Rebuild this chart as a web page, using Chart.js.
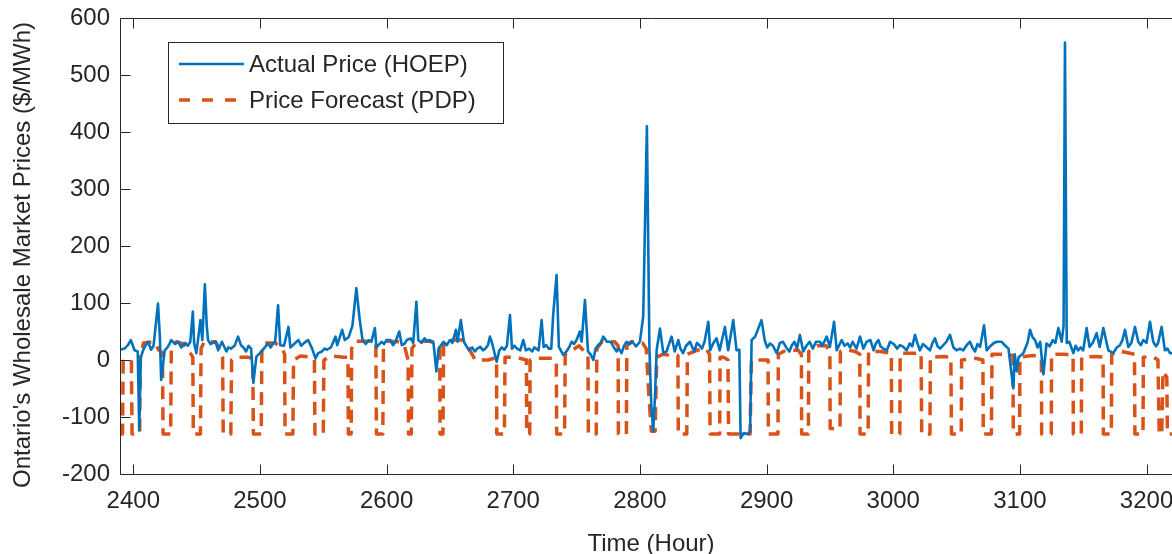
<!DOCTYPE html>
<html><head><meta charset="utf-8">
<script src="https://cdn.jsdelivr.net/npm/chart.js@4"></script>
<style>
html,body{margin:0;padding:0;overflow:hidden;background:#fff;width:1172px;height:554px}
#wrap{position:absolute;left:0;top:0;width:1200px;height:554px}
</style></head>
<body><div id="wrap"><canvas id="c" width="1200" height="554"></canvas></div>
<script>
const hoepHours = [
2389.5,2393,2395.8,2398,2401,2403.5,2404.7,2406,2407.7,2409.5,
2411.7,2414,2416,2419.5,2421,2422,2424.8,2427,2428.5,2430,
2433,2435.3,2438,2441,2443,2445,2447,2448,2449.8,2453,
2454.5,2456.5,2458,2459,2461,2463,2465,2467,2470,2473.5,
2475,2477,2480,2482.7,2485,2487,2489,2491,2493,2494.8,
2497.2,2500,2503,2506.5,2508.5,2510,2512,2514.3,2516,2519,
2522.5,2524,2527,2530.4,2532.5,2535,2538,2541.2,2543.8,2546,
2549,2551,2553,2556,2559.7,2561,2564.9,2567,2570,2573,
2576.1,2578.8,2581,2583.5,2586,2588,2590.7,2592,2596,2598,
2600,2603,2605,2607,2610,2612,2614,2616,2619,2621,
2623.5,2625,2627.5,2630,2632,2634,2637,2639.3,2641,2645,
2647.5,2650,2652,2654.7,2656,2658.6,2661,2665,2667.5,2669.7,
2671.5,2674,2676,2678,2680,2681.6,2683,2686.9,2689,2691,
2693,2695,2697.4,2699,2701,2703,2705.5,2707.9,2710,2712.5,
2715,2716.5,2718,2720,2722.4,2724,2726,2728,2730,2731.6,
2734.2,2736,2739.5,2742,2744,2746.1,2748,2750,2752.6,2754,
2756.6,2759,2761,2763.2,2765,2767,2769,2771,2774,2777,
2779.5,2781.6,2783.5,2785.5,2787.5,2789.5,2792,2794,2797,2800,
2802.6,2805.5,2807.5,2809,2810.5,2812,2813.2,2815.8,2818.5,2821,
2825,2827.5,2830.3,2832,2834,2836.5,2839.5,2841.5,2843,2845,
2847,2849,2851,2854,2855.5,2858,2860.5,2863,2867.1,2869.7,
2873.7,2876.3,2878.5,2879.5,2882,2885,2887,2888.2,2891,2896,
2898.5,2900.5,2902.7,2905,2908,2910.5,2913,2915.5,2918,2920,
2922,2924,2926.3,2929,2931.5,2934,2936.5,2939,2942.2,2944,
2947.5,2950,2953.3,2955.4,2959.3,2961.5,2964,2966,2968,2971,
2973.8,2976.4,2979,2982,2984.5,2986,2988.3,2990,2992,2995,
2997.5,3000.5,3003,3005.4,3008,3010.6,3013,3015,3017.2,3019,
3021,3023.5,3026,3029,3031,3033,3035,3037,3039.6,3042,
3044.8,3047.5,3050,3052.7,3055.3,3058,3060.6,3062.5,3064.6,3066.5,
3068.6,3071.7,3073.8,3076.5,3079,3081.7,3085.6,3088.5,3091,3094.8,
3096,3097.5,3099,3102.7,3104.5,3106,3108,3110,3112,3114,
3116,3118.6,3121,3123.5,3126,3128,3130.4,3133,3134.5,3135.6,
3137,3139,3142.2,3144,3146,3148,3150,3152.7,3155,3157.5,
3160.6,3163,3165.9,3169.8,3173.8,3176.5,3179,3181,3183,3185.6,
3188,3190.9,3193.5,3195.5,3197.4,3200,3202.7,3205.3,3207.5,3209,
3211.9,3214.5,3216.5,3218.5,3222,3228];
const hoepPrices = [
18,20,26,35,17,15,-123,5,17,25,
32,18,25,99,40,-35,17,22,28,35,
28,32,22,30,25,32,85,30,12,70,
35,133,60,35,28,30,32,17,32,15,
22,20,25,41,26,22,15,25,20,-40,
6,12,20,29,22,28,32,96,26,25,
58,22,28,35,25,30,35,20,3,12,
15,20,18,22,41,26,53,35,40,60,
126,70,35,28,35,32,56,22,32,28,
35,35,26,32,50,26,28,35,38,30,
102,35,30,38,33,35,30,-20,20,32,
26,35,30,53,32,70,32,17,22,15,
20,23,17,20,26,41,32,-3,17,22,
18,25,79,20,25,20,17,35,17,20,
15,22,20,17,70,23,26,20,20,82,
149,23,9,15,22,32,28,35,50,32,
105,15,10,0,20,26,30,41,32,32,
22,15,20,12,25,32,28,32,24,32,
76,410,20,-80,-125,-60,17,55,12,15,
41,15,35,20,12,25,32,22,15,30,
26,20,32,67,17,30,38,17,58,17,
70,17,18,-137,-128,-130,-125,35,41,70,
35,22,29,25,12,30,32,22,15,26,
32,20,44,15,25,32,20,32,32,25,
41,23,67,17,35,25,29,22,32,20,
41,20,32,35,17,28,35,24,20,17,
32,28,20,26,23,17,29,24,44,30,
17,28,23,17,30,38,24,20,26,32,
44,22,17,20,17,26,32,22,15,28,
23,61,17,24,29,32,32,25,20,-50,
10,-20,5,12,22,30,53,40,35,22,
32,-25,29,24,35,30,56,32,60,557,
30,32,12,25,17,22,17,56,23,30,
47,23,56,17,12,22,26,35,53,23,
30,58,32,26,35,30,67,32,24,29,
58,17,20,12,12,12];

const pdpHours = [2389.5,2391.5,2392,2398.5,2399,2405,2405.5,2408,2416,2420,2423,2423.5,2429.5,2430,2434,2440,2445,2447,2447.4,2453,2453.5,2456,2465,2469,2470.5,2471,2477,2477.6,2481,2490,2494.3,2494.8,2501,2501.5,2504,2512,2518,2519.5,2519.8,2526,2526.5,2532,2541,2543,2543.4,2550,2550.5,2556,2566,2569.5,2569.8,2572,2572.4,2575,2588,2591.5,2592,2597,2597.5,2600,2610,2614,2617,2617.3,2619.5,2620,2624,2633,2640,2642,2642.2,2644.5,2645,2648,2660,2665,2670,2680,2685,2686.8,2687,2693,2693.5,2698,2705,2710.4,2710.6,2713,2713.3,2720,2732,2734,2734.3,2740.5,2741,2747,2752,2756,2759,2759.3,2765.5,2766,2770,2780,2782.8,2783,2789.3,2789.7,2793,2802,2805,2807,2809,2812,2813.3,2818,2825,2830,2830.3,2837,2837.5,2845,2852,2855,2855.4,2863,2863.3,2866,2869.5,2870,2887,2888,2900,2901.2,2901.4,2909,2909.3,2915,2925,2927.5,2927.7,2933,2933.3,2940,2947,2950,2950.2,2958,2958.3,2963,2970,2973.6,2973.8,2980.2,2980.5,2990,2998.5,2998.8,3005.2,3005.5,3015,3022,3022.5,3029,3029.3,3040,3045.5,3046,3053.7,3054,3065,3070.8,3071.1,3077.5,3078,3088,3094.5,3094.8,3099.8,3100,3110,3117,3117.2,3124.8,3125,3135,3142,3142.2,3148.5,3148.8,3160,3165.7,3165.9,3172.2,3172.5,3180,3190.5,3190.8,3197.2,3197.5,3205,3209,3210,3212,3213,3216,3216.5,3228];
const pdpPrices = [-130,-130,-2,0,-130,-130,5,30,32,18,12,-130,-130,20,32,28,12,5,-130,-130,20,32,32,15,5,-130,-130,0,5,5,3,-130,-130,15,30,30,18,10,-130,-130,0,7,5,0,-130,-130,0,7,5,5,-130,-130,20,33,33,30,-130,-130,20,33,32,25,0,-130,-130,20,33,33,30,25,-130,-130,25,35,35,20,0,0,3,3,-130,-130,5,5,3,0,-130,-130,0,3,3,-5,-130,-130,10,18,25,15,10,-130,-130,20,32,32,25,-130,-130,25,32,30,20,-60,-125,-125,5,10,8,8,-130,-130,10,17,20,10,-130,-130,5,5,0,-130,-130,0,0,0,-130,-130,10,17,17,10,-130,-130,15,25,25,15,-120,-120,15,18,15,10,-130,-130,15,15,12,-130,-130,12,12,12,-130,-130,5,6,5,-130,-130,0,3,0,-130,-130,10,10,8,-130,-130,5,8,5,-130,-130,10,10,8,-130,-130,5,6,5,-130,-130,10,15,10,-130,-130,5,6,0,-130,-130,-20,-30,-130,-130];

const xTicks = [2400,2500,2600,2700,2800,2900,3000,3100,3200];
const yTicks = [-200,-100,0,100,200,300,400,500,600];
const seriesNames = ['Actual Price (HOEP)','Price Forecast (PDP)'];
const xTitle = 'Time (Hour)';
const yTitle = "Ontario's Wholesale Market Prices ($/MWh)";

const INK = '#262626';
const FONT = '"Liberation Sans", Arial, Helvetica, sans-serif';
const BLUE = '#0072BD', ORANGE = '#D95319';

const toPts = (xs, ys) => xs.map((x, i) => ({x, y: ys[i]}));

const matlabAxes = {
  id: 'matlabAxes',
  afterDraw(chart) {
    const {ctx, chartArea: a, scales: {x, y}} = chart;
    ctx.save();
    ctx.strokeStyle = INK; ctx.lineWidth = 1;
    const L = Math.round(a.left) + 0.5, R = Math.round(a.right) + 0.5;
    const T = Math.round(a.top) + 0.5, B = Math.round(a.bottom) + 0.5;
    ctx.beginPath();
    ctx.moveTo(L, T); ctx.lineTo(R, T); ctx.lineTo(R, B); ctx.lineTo(L, B); ctx.closePath();
    const tl = 10;
    xTicks.forEach(v => { const px = Math.round(x.getPixelForValue(v)) + 0.5;
      ctx.moveTo(px, B); ctx.lineTo(px, B - tl); ctx.moveTo(px, T); ctx.lineTo(px, T + tl); });
    yTicks.forEach(v => { const py = Math.round(y.getPixelForValue(v)) + 0.5;
      ctx.moveTo(L, py); ctx.lineTo(L + tl, py); ctx.moveTo(R, py); ctx.lineTo(R - tl, py); });
    ctx.stroke();

    // y title
    ctx.fillStyle = INK; ctx.font = '24px ' + FONT;
    ctx.save();
    ctx.translate(30, 255); ctx.rotate(-Math.PI / 2);
    ctx.textAlign = 'center'; ctx.textBaseline = 'alphabetic';
    ctx.fillText(yTitle, 0, 0);
    ctx.restore();

    // legend
    const bx = 168.5, by = 42.5, bw = 335, bh = 81;
    ctx.fillStyle = '#fff'; ctx.fillRect(bx, by, bw, bh);
    ctx.strokeStyle = INK; ctx.lineWidth = 1; ctx.strokeRect(bx, by, bw, bh);
    const rows = [64, 100];
    chart.data.datasets.forEach((ds, i) => {
      const ry = rows[i];
      ctx.save();
      ctx.strokeStyle = ds.borderColor; ctx.lineWidth = ds.borderWidth;
      ctx.setLineDash(i === 1 ? [11, 12] : []);
      ctx.beginPath(); ctx.moveTo(179, ry); ctx.lineTo(244, ry); ctx.stroke();
      ctx.restore();
      ctx.fillStyle = INK; ctx.font = '24px ' + FONT;
      ctx.textAlign = 'left'; ctx.textBaseline = 'middle';
      ctx.fillText(ds.label, 249, ry + 1);
    });
    ctx.restore();
  }
};

new Chart(document.getElementById('c'), {
  type: 'line',
  data: {
    datasets: [
      {label: seriesNames[0], data: toPts(hoepHours, hoepPrices), borderColor: BLUE, borderWidth: 2.6,
       pointRadius: 0, tension: 0, fill: false, borderJoinStyle: 'round'},
      {label: seriesNames[1], data: toPts(pdpHours, pdpPrices), borderColor: ORANGE, borderWidth: 3.5,
       borderDash: [13, 8], pointRadius: 0, tension: 0, fill: false, borderJoinStyle: 'round'}
    ]
  },
  options: {
    responsive: false, animation: false, devicePixelRatio: 1,
    layout: {padding: {top: 18, right: 18, left: 0, bottom: 0}},
    plugins: {legend: {display: false}, tooltip: {enabled: false}},
    scales: {
      x: {type: 'linear', min: 2389.5, max: 3228,
        afterBuildTicks: s => { s.ticks = xTicks.map(v => ({value: v})); },
        afterFit: s => { s.height = 80; s.paddingLeft = 0; s.paddingRight = 0; },
        grid: {display: false, drawTicks: false}, border: {display: false},
        ticks: {color: INK, font: {family: FONT, size: 24}, padding: 13, maxRotation: 0, autoSkip: false,
          callback: v => String(v)},
        title: {display: true, text: xTitle, color: INK, font: {family: FONT, size: 24}, padding: {top: 0, bottom: -5}}
      },
      y: {min: -200, max: 600,
        afterBuildTicks: s => { s.ticks = yTicks.map(v => ({value: v})); },
        afterFit: s => { s.width = 120; s.paddingTop = 0; s.paddingBottom = 0; },
        grid: {display: false, drawTicks: false}, border: {display: false},
        ticks: {color: INK, font: {family: FONT, size: 24}, padding: 10, autoSkip: false,
          callback: v => String(v)}
      }
    }
  },
  plugins: [matlabAxes]
});
</script>
</body></html>
